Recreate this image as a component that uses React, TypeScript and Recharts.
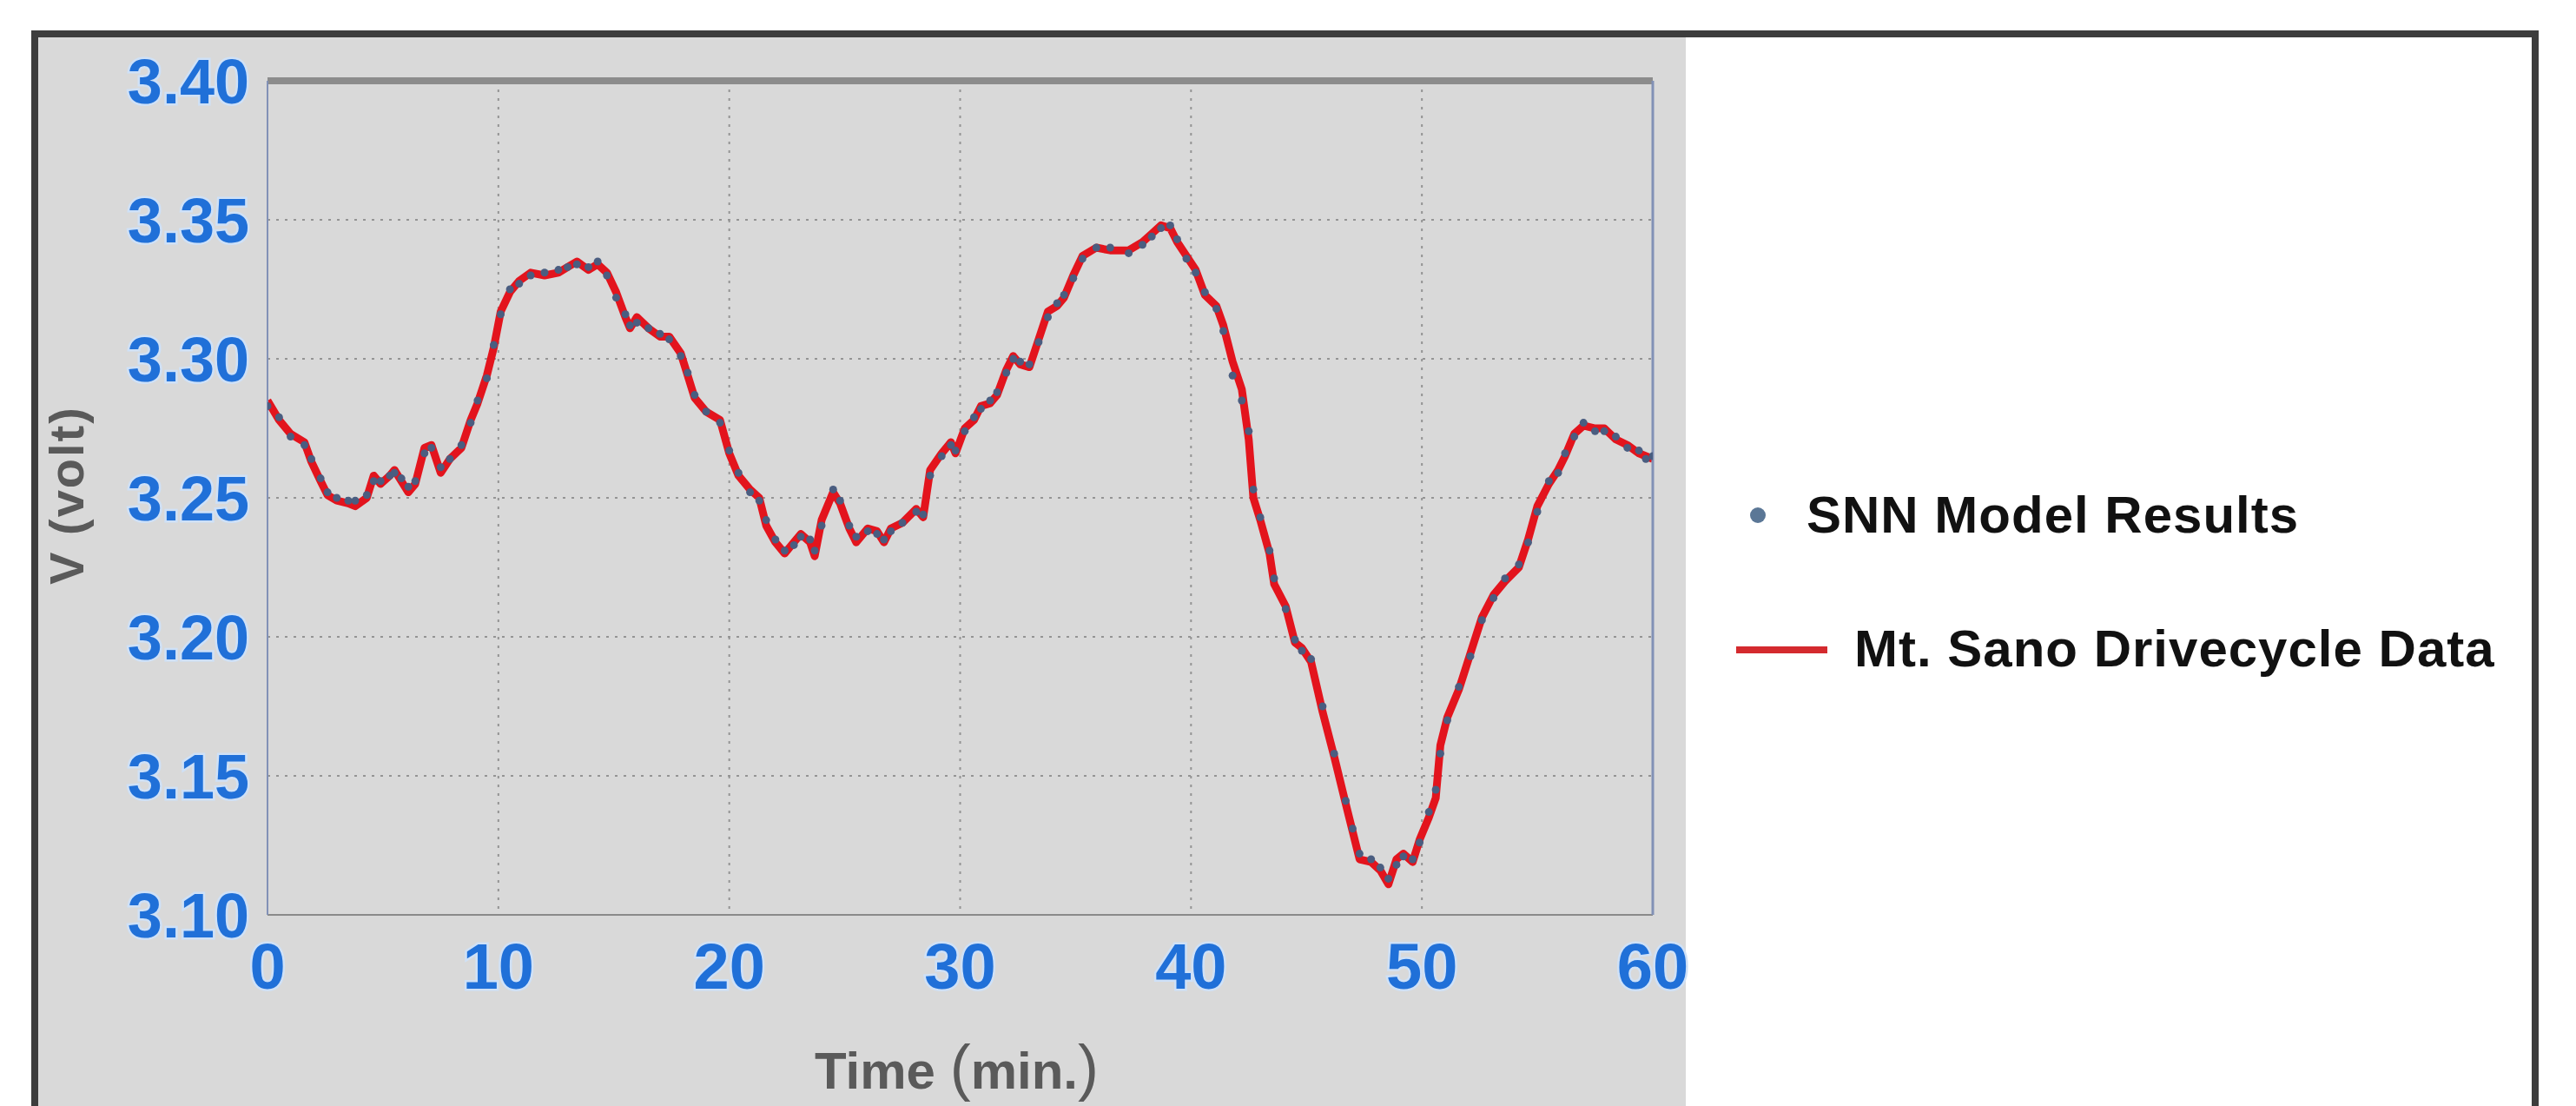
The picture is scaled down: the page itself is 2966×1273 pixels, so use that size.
import React from 'react';
import { LineChart, Line, XAxis, YAxis, CartesianGrid, Legend, Label } from 'recharts';

// Time (min) and voltage (V)
const TIME = [
  0, 0.5, 1.0, 1.6, 1.9, 2.3, 2.6, 3.0, 3.5, 3.8,
  4.3, 4.6, 4.9, 5.3, 5.5, 5.8, 6.1, 6.4, 6.8, 7.1,
  7.5, 7.9, 8.4, 8.8, 9.1, 9.5, 9.8, 10.1, 10.5, 10.9,
  11.4, 12.0, 12.6, 13.0, 13.4, 13.9, 14.3, 14.7, 15.1, 15.5,
  15.7, 16.0, 16.5, 17.0, 17.4, 17.9, 18.2, 18.5, 19.0, 19.6,
  20.0, 20.4, 20.9, 21.3, 21.6, 22.0, 22.4, 22.8, 23.1, 23.5,
  23.7, 24.0, 24.5, 24.8, 25.2, 25.5, 26.0, 26.4, 26.7, 27.0,
  27.5, 28.1, 28.4, 28.7, 29.2, 29.6, 29.8, 30.2, 30.6, 30.9,
  31.3, 31.6, 32.0, 32.3, 32.6, 33.0, 33.4, 33.8, 34.2, 34.5,
  34.9, 35.3, 35.9, 36.5, 37.3, 37.9, 38.3, 38.7, 39.1, 39.4,
  39.8, 40.2, 40.6, 41.1, 41.4, 41.8, 42.2, 42.5, 42.7, 43.0,
  43.4, 43.6, 44.1, 44.5, 44.8, 45.2, 45.7, 46.2, 46.7, 47.0,
  47.3, 47.8, 48.2, 48.55, 48.9, 49.2, 49.6, 49.9, 50.3, 50.6,
  50.8, 51.1, 51.6, 52.1, 52.6, 53.1, 53.6, 54.2, 54.6, 55.0,
  55.5, 55.9, 56.2, 56.6, 57.0, 57.5, 57.9, 58.4, 58.9, 59.4,
  59.7, 60.0,
];

const DRIVECYCLE = [
  3.285, 3.278, 3.273, 3.270, 3.263, 3.256, 3.251, 3.249, 3.248, 3.247,
  3.250, 3.258, 3.255, 3.258, 3.260, 3.256, 3.252, 3.255, 3.268, 3.269,
  3.259, 3.264, 3.268, 3.278, 3.284, 3.294, 3.304, 3.317, 3.324, 3.328,
  3.331, 3.330, 3.331, 3.333, 3.335, 3.332, 3.334, 3.331, 3.324, 3.315,
  3.311, 3.315, 3.311, 3.308, 3.308, 3.302, 3.294, 3.286, 3.281, 3.278,
  3.266, 3.258, 3.253, 3.250, 3.240, 3.234, 3.230, 3.234, 3.237, 3.234,
  3.229, 3.242, 3.252, 3.248, 3.239, 3.234, 3.239, 3.238, 3.234, 3.239,
  3.241, 3.246, 3.243, 3.260, 3.266, 3.270, 3.266, 3.275, 3.278, 3.283,
  3.284, 3.287, 3.296, 3.301, 3.298, 3.297, 3.307, 3.317, 3.319, 3.322,
  3.330, 3.337, 3.340, 3.339, 3.339, 3.342, 3.345, 3.348, 3.347, 3.342,
  3.337, 3.332, 3.323, 3.319, 3.312, 3.299, 3.289, 3.271, 3.250, 3.242,
  3.230, 3.219, 3.211, 3.198, 3.196, 3.191, 3.173, 3.157, 3.140, 3.130,
  3.120, 3.119, 3.116, 3.111, 3.120, 3.122, 3.119, 3.127, 3.135, 3.142,
  3.161, 3.171, 3.181, 3.194, 3.207, 3.215, 3.220, 3.225, 3.235, 3.247,
  3.255, 3.260, 3.265, 3.273, 3.276, 3.275, 3.275, 3.271, 3.269, 3.266,
  3.265, 3.264,
];

const SNN = [
  3.283, 3.279, 3.272, 3.269, 3.264, 3.257, 3.252, 3.250, 3.249, 3.249,
  3.251, 3.256, 3.256, 3.258, 3.259, 3.257, 3.254, 3.256, 3.266, 3.268,
  3.261, 3.264, 3.269, 3.277, 3.285, 3.293, 3.305, 3.316, 3.325, 3.327,
  3.330, 3.331, 3.332, 3.333, 3.334, 3.333, 3.335, 3.330, 3.322, 3.316,
  3.312, 3.313, 3.311, 3.309, 3.307, 3.301, 3.295, 3.287, 3.281, 3.277,
  3.267, 3.259, 3.252, 3.249, 3.242, 3.235, 3.231, 3.233, 3.236, 3.235,
  3.231, 3.240, 3.253, 3.249, 3.240, 3.236, 3.238, 3.237, 3.235, 3.238,
  3.241, 3.245, 3.244, 3.258, 3.265, 3.269, 3.267, 3.274, 3.279, 3.282,
  3.285, 3.288, 3.295, 3.300, 3.299, 3.298, 3.306, 3.315, 3.320, 3.323,
  3.329, 3.336, 3.340, 3.340, 3.338, 3.341, 3.344, 3.347, 3.348, 3.343,
  3.336, 3.331, 3.324, 3.318, 3.310, 3.294, 3.285, 3.274, 3.253, 3.243,
  3.231, 3.221, 3.210, 3.199, 3.195, 3.192, 3.175, 3.158, 3.141, 3.131,
  3.122, 3.120, 3.117, 3.113, 3.118, 3.121, 3.120, 3.126, 3.137, 3.145,
  3.158, 3.170, 3.182, 3.193, 3.206, 3.214, 3.221, 3.226, 3.234, 3.245,
  3.256, 3.259, 3.266, 3.272, 3.277, 3.274, 3.274, 3.272, 3.268, 3.267,
  3.264, 3.265,
];

const X_TICKS = [0, 10, 20, 30, 40, 50, 60];
const X_MINOR = [0, 2, 4, 6, 8, 10, 12, 14, 16, 18, 20, 22, 24, 26, 28, 30, 32, 34, 36, 38, 40, 42, 44, 46, 48, 50, 52, 54, 56, 58, 60];
const Y_TICKS = [3.10, 3.15, 3.20, 3.25, 3.30, 3.35, 3.40];
const Y_MINOR = [3.11, 3.12, 3.13, 3.14, 3.15, 3.16, 3.17, 3.18, 3.19, 3.20, 3.21, 3.22, 3.23, 3.24, 3.25, 3.26, 3.27, 3.28, 3.29, 3.30, 3.31, 3.32, 3.33, 3.34, 3.35, 3.36, 3.37, 3.38, 3.39];

const SERIES_NAMES = ['SNN Model Results', 'Mt. Sano Drivecycle Data'];

const rows = TIME.map((t, i) => ({ t, drive: DRIVECYCLE[i], snn: SNN[i] }));

const FONT = '"Liberation Sans", Arial, Helvetica, sans-serif';
const TICK_BLUE = '#2070d8';
const GLOW = '#cfe1f7';
const RED = '#e3141d';
const DOT = '#4a5d80';

function XTick(props: any) {
  const { x, y, payload } = props;
  return (
    <text x={x} y={y + 85} textAnchor="middle" fontFamily={FONT} fontWeight="bold" fontSize={74}
      fill={TICK_BLUE} stroke={GLOW} strokeWidth={5} paintOrder="stroke">
      {payload.value}
    </text>
  );
}

function YTick(props: any) {
  const { x, y, payload } = props;
  return (
    <text x={x - 21} y={y + 26} textAnchor="end" fontFamily={FONT} fontWeight="bold" fontSize={72}
      fill={TICK_BLUE} stroke={GLOW} strokeWidth={5} paintOrder="stroke">
      {Number(payload.value).toFixed(2)}
    </text>
  );
}

function YTitle(props: any) {
  const { viewBox } = props;
  const cx = viewBox.x + 68;
  const cy = viewBox.y + viewBox.height / 2 - 3;
  return (
    <text x={cx} y={cy} transform={`rotate(-90 ${cx} ${cy})`} textAnchor="middle" dominantBaseline="central"
      fontFamily={FONT} fontWeight="bold" fontSize={56} fill="#5a5a5a" letterSpacing={2}>
      V (volt)
    </text>
  );
}

function XTitle(props: any) {
  const { viewBox } = props;
  const cx = viewBox.x + viewBox.width / 2 - 4;
  const by = viewBox.y + 200;
  return (
    <text x={cx} y={by} textAnchor="middle" fontFamily={FONT} fontWeight="bold" fontSize={60} fill="#5a5a5a">
      Time <tspan fontSize={72} fontWeight="normal">(</tspan>min.<tspan fontSize={72} fontWeight="normal">)</tspan>
    </text>
  );
}

function LegendBox() {
  return (
    <svg width={960} height={300} style={{ display: 'block' }}>
      <circle cx={44} cy={73} r={9} fill="#5b7796" />
      <text x={100} y={93} fontFamily={FONT} fontWeight="bold" fontSize={60} letterSpacing={1} fill="#111">
        {SERIES_NAMES[0]}
      </text>
      <line x1={19} x2={124} y1={228} y2={228} stroke="#d42a2e" strokeWidth={8} />
      <text x={155} y={247} fontFamily={FONT} fontWeight="bold" fontSize={60} letterSpacing={1} fill="#111">
        {SERIES_NAMES[1]}
      </text>
    </svg>
  );
}

export default function App() {
  return (
    <div style={{ position: 'absolute', left: 0, top: 0, width: 2966, height: 1273, overflow: 'hidden', background: '#fff' }}>
      <div style={{ position: 'absolute', left: 36, top: 35, width: 2887, height: 1320, border: '8px solid #3d3d3d', boxSizing: 'border-box', background: '#fff' }} />
      <div style={{ position: 'absolute', left: 44, top: 43, width: 1897, height: 1260, background: '#d9d9d9' }} />
      <div style={{ position: 'absolute', left: 0, top: 0 }}>
        <LineChart width={2966} height={1273} data={rows} margin={{ top: 93, right: 1063, bottom: 120, left: 8 }}>
          <CartesianGrid stroke="#949494" strokeWidth={2} strokeDasharray="3 7" />
          {/* inner minor ticks, Mathematica-style frame */}
          <XAxis xAxisId="bm" dataKey="t" type="number" domain={[0, 60]} allowDataOverflow orientation="bottom" mirror
            ticks={X_MINOR} interval={0} tick={false} tickSize={9} height={1} axisLine={false}
            tickLine={{ stroke: '#6f6f6f', strokeWidth: 2 }} />
          <XAxis xAxisId="top" dataKey="t" type="number" domain={[0, 60]} allowDataOverflow orientation="top" mirror
            ticks={X_MINOR} interval={0} tick={false} tickSize={9} height={1}
            axisLine={{ stroke: '#8c8c8c', strokeWidth: 8 }} tickLine={{ stroke: '#7a7a7a', strokeWidth: 2 }} />
          <XAxis dataKey="t" type="number" domain={[0, 60]} allowDataOverflow ticks={X_TICKS} interval={0}
            height={100} tickSize={0} tickMargin={0} tickLine={false}
            axisLine={{ stroke: '#8a8a8a', strokeWidth: 2 }} tick={<XTick />}>
            <Label content={<XTitle />} />
          </XAxis>
          <YAxis yAxisId="lm" type="number" domain={[3.1, 3.4]} allowDataOverflow orientation="left" mirror
            ticks={Y_MINOR} interval={0} tick={false} tickSize={8} width={1} axisLine={false}
            tickLine={{ stroke: '#6c7aa0', strokeWidth: 2 }} />
          <YAxis yAxisId="r" type="number" domain={[3.1, 3.4]} allowDataOverflow orientation="right" mirror
            ticks={Y_MINOR} interval={0} tick={false} tickSize={8} width={1}
            axisLine={{ stroke: '#8291b6', strokeWidth: 3 }} tickLine={{ stroke: '#6c7aa0', strokeWidth: 2 }} />
          <YAxis type="number" domain={[3.1, 3.4]} allowDataOverflow ticks={Y_TICKS} interval={0} width={300}
            tickSize={0} tickMargin={0} tickLine={false} axisLine={{ stroke: '#8291b6', strokeWidth: 2 }} tick={<YTick />}>
            <Label content={<YTitle />} />
          </YAxis>
          <Line dataKey="snn" name={SERIES_NAMES[0]} type="linear" stroke="none" isAnimationActive={false}
            dot={{ r: 4.5, fill: DOT, stroke: 'none' }} activeDot={false} />
          <Line dataKey="drive" name={SERIES_NAMES[1]} type="linear" stroke={RED} strokeWidth={9}
            strokeLinejoin="round" dot={false} activeDot={false} isAnimationActive={false} />
          <Legend layout="horizontal" verticalAlign="middle" align="center" content={<LegendBox />}
            wrapperStyle={{ left: 1980, top: 520, width: 960, height: 300 }} />
        </LineChart>
      </div>
    </div>
  );
}
